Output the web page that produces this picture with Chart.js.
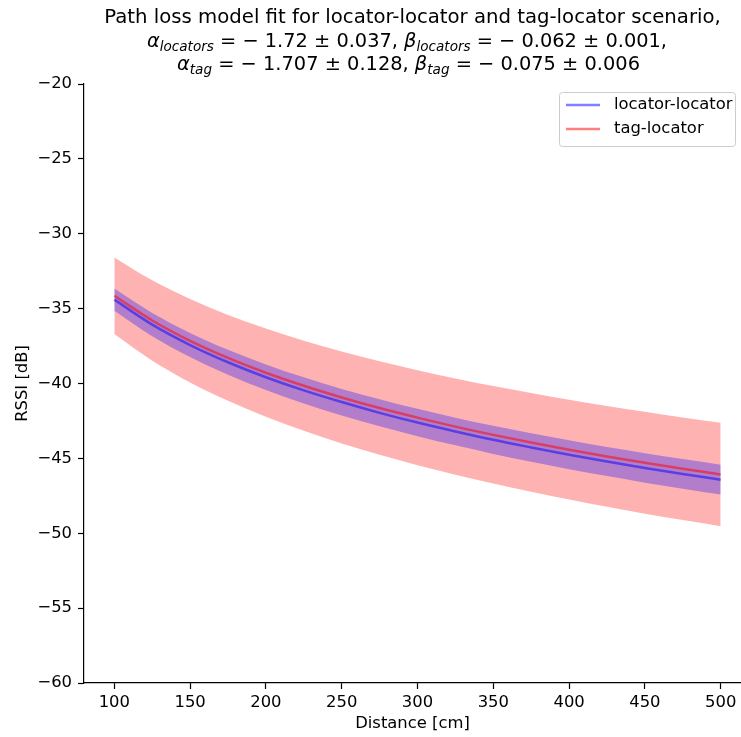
<!DOCTYPE html>
<html>
<head>
<meta charset="utf-8">
<script src="https://cdn.jsdelivr.net/npm/chart.js@4/dist/chart.umd.min.js"></script>
<style>
html,body{margin:0;padding:0;background:#fff;overflow:hidden;}
#wrap{width:741px;height:737px;}
</style>
</head>
<body>
<div id="wrap"><canvas id="c" width="741" height="737"></canvas></div>
<script>
const distance = [100,125,150,175,200,225,250,275,300,325,350,375,400,425,450,475,500];
const locMean  = [-34.40,-36.07,-37.43,-38.58,-39.58,-40.46,-41.24,-41.96,-42.61,-43.20,-43.76,-44.27,-44.76,-45.21,-45.64,-46.04,-46.42];
const locUpper = [-33.66,-35.29,-36.62,-37.75,-38.73,-39.59,-40.36,-41.05,-41.69,-42.28,-42.82,-43.32,-43.79,-44.24,-44.65,-45.05,-45.42];
const locLower = [-35.14,-36.84,-38.23,-39.41,-40.43,-41.33,-42.13,-42.86,-43.52,-44.13,-44.70,-45.23,-45.72,-46.18,-46.62,-47.03,-47.42];
const tagMean  = [-34.14,-35.79,-37.15,-38.29,-39.28,-40.15,-40.93,-41.64,-42.28,-42.88,-43.43,-43.94,-44.42,-44.87,-45.29,-45.69,-46.07];
const tagUpper = [-31.58,-33.11,-34.36,-35.42,-36.33,-37.14,-37.86,-38.52,-39.11,-39.66,-40.17,-40.64,-41.09,-41.50,-41.89,-42.27,-42.62];
const tagLower = [-36.70,-38.48,-39.93,-41.16,-42.22,-43.16,-44.00,-44.76,-45.46,-46.09,-46.68,-47.23,-47.75,-48.23,-48.69,-49.12,-49.53];
const xTicks = [100,150,200,250,300,350,400,450,500];
const yTicks = [-60,-55,-50,-45,-40,-35,-30,-25,-20];
const seriesNames = ['locator-locator','tag-locator'];
const titleLine1 = 'Path loss model fit for locator-locator and tag-locator scenario,';

const FONT = "'DejaVu Sans', sans-serif";
const pts = (ys) => distance.map((x,i)=>({x:x,y:ys[i]}));

const BLUE_LINE = 'rgba(0,0,255,0.5)';
const RED_LINE = 'rgba(255,0,0,0.5)';

const titlePlugin = {
  id:'mplTitle',
  afterDraw(chart){
    const ctx = chart.ctx;
    const ca = chart.chartArea;
    const cx = (ca.left + ca.right)/2;
    const big = 19.7, sub = 13.8;
    const fN = big+'px '+FONT, fI = 'italic '+big+'px '+FONT, fS = 'italic '+sub+'px '+FONT;
    const lines = [
      {y:23, segs:[{t:titleLine1,f:fN}]},
      {y:47, x0:147, w:520, segs:[{t:'α',f:fI},{t:'locators',f:fS,dy:4},{t:' = − 1.72 ± 0.037, ',f:fN},{t:'β',f:fI},{t:'locators',f:fS,dy:4},{t:' = − 0.062 ± 0.001,',f:fN}]},
      {y:70, x0:177, w:463, segs:[{t:'α',f:fI},{t:'tag',f:fS,dy:4},{t:' = − 1.707 ± 0.128, ',f:fN},{t:'β',f:fI},{t:'tag',f:fS,dy:4},{t:' = − 0.075 ± 0.006',f:fN}]}
    ];
    ctx.save();
    ctx.fillStyle = '#000';
    ctx.textBaseline = 'alphabetic';
    ctx.textAlign = 'left';
    lines.forEach(L=>{
      let w = 0;
      L.segs.forEach(s=>{ctx.font=s.f; s.w=ctx.measureText(s.t).width; w+=s.w;});
      let x0 = L.x0 !== undefined ? L.x0 : cx - w/2;
      const k = L.w ? Math.min(1, L.w / w) : 1;
      ctx.save();
      ctx.translate(x0, 0);
      ctx.scale(k, 1);
      let x = 0;
      L.segs.forEach(s=>{ctx.font=s.f; ctx.fillText(s.t,x,L.y+(s.dy||0)); x+=s.w;});
      ctx.restore();
    });
    ctx.restore();
  }
};

const legendPlugin = {
  id:'mplLegend',
  afterDraw(chart){
    const ctx = chart.ctx;
    const bx=559.5, by=92.5, bw=176, bh=54, r=3;
    ctx.save();
    ctx.beginPath();
    ctx.moveTo(bx+r,by); ctx.lineTo(bx+bw-r,by); ctx.arcTo(bx+bw,by,bx+bw,by+r,r);
    ctx.lineTo(bx+bw,by+bh-r); ctx.arcTo(bx+bw,by+bh,bx+bw-r,by+bh,r);
    ctx.lineTo(bx+r,by+bh); ctx.arcTo(bx,by+bh,bx,by+bh-r,r);
    ctx.lineTo(bx,by+r); ctx.arcTo(bx,by,bx+r,by,r); ctx.closePath();
    ctx.fillStyle='rgba(255,255,255,0.8)'; ctx.fill();
    ctx.strokeStyle='#cccccc'; ctx.lineWidth=1; ctx.stroke();
    const rows=[{y:105,c:BLUE_LINE,t:seriesNames[0]},{y:129,c:RED_LINE,t:seriesNames[1]}];
    ctx.font='16.4px '+FONT; ctx.textBaseline='middle'; ctx.textAlign='left';
    rows.forEach(rw=>{
      ctx.beginPath(); ctx.moveTo(566,rw.y); ctx.lineTo(600,rw.y);
      ctx.strokeStyle=rw.c; ctx.lineWidth=2.5; ctx.stroke();
      ctx.fillStyle='#000'; ctx.fillText(rw.t,614,rw.y);
    });
    ctx.restore();
  }
};

const minus = v => String(v).replace('-','−');

new Chart(document.getElementById('c'),{
  type:'line',
  data:{datasets:[
    {label:'tag upper',data:pts(tagUpper),fill:1,backgroundColor:'rgba(255,0,0,0.3)',borderColor:'rgba(0,0,0,0)',borderWidth:0,pointRadius:0,order:10,cubicInterpolationMode:'monotone'},
    {label:'tag lower',data:pts(tagLower),fill:false,borderColor:'rgba(0,0,0,0)',borderWidth:0,pointRadius:0,order:10,cubicInterpolationMode:'monotone'},
    {label:'loc upper',data:pts(locUpper),fill:3,backgroundColor:'rgba(0,0,255,0.3)',borderColor:'rgba(0,0,0,0)',borderWidth:0,pointRadius:0,order:8,cubicInterpolationMode:'monotone'},
    {label:'loc lower',data:pts(locLower),fill:false,borderColor:'rgba(0,0,0,0)',borderWidth:0,pointRadius:0,order:8,cubicInterpolationMode:'monotone'},
    {label:seriesNames[0],data:pts(locMean),fill:false,borderColor:BLUE_LINE,borderWidth:2.5,pointRadius:0,order:2,cubicInterpolationMode:'monotone'},
    {label:seriesNames[1],data:pts(tagMean),fill:false,borderColor:RED_LINE,borderWidth:2.5,pointRadius:0,order:1,cubicInterpolationMode:'monotone'}
  ]},
  options:{
    responsive:false,
    devicePixelRatio:1,
    animation:false,
    events:[],
    layout:{padding:{top:84,right:0,left:0,bottom:0}},
    plugins:{legend:{display:false},tooltip:{enabled:false},title:{display:false}},
    scales:{
      x:{
        type:'linear',min:80,max:513.4,
        afterBuildTicks:s=>{s.ticks=xTicks.map(v=>({value:v}));},
        afterFit:s=>{s.height=54;},
        grid:{display:true,drawOnChartArea:false,drawTicks:true,tickLength:6,tickColor:'#000',tickWidth:1.2},
        border:{display:true,color:'#000',width:1.2},
        ticks:{color:'#000',font:{family:FONT,size:16.4},padding:4,maxRotation:0,autoSkip:false,callback:v=>minus(v)},
        title:{display:true,text:'Distance [cm]',color:'#000',font:{family:FONT,size:16.4},padding:{top:0,bottom:3}}
      },
      y:{
        type:'linear',min:-60,max:-20,
        afterBuildTicks:s=>{s.ticks=yTicks.map(v=>({value:v}));},
        afterFit:s=>{s.width=84;},
        grid:{display:true,drawOnChartArea:false,drawTicks:true,tickLength:6,tickColor:'#000',tickWidth:1.2},
        border:{display:true,color:'#000',width:1.2},
        ticks:{color:'#000',font:{family:FONT,size:16.4},padding:6,autoSkip:false,callback:v=>minus(v)},
        title:{display:true,text:'RSSI [dB]',color:'#000',font:{family:FONT,size:16.4},padding:{top:13,bottom:0}}
      }
    }
  },
  plugins:[titlePlugin,legendPlugin]
});
</script>
</body>
</html>
